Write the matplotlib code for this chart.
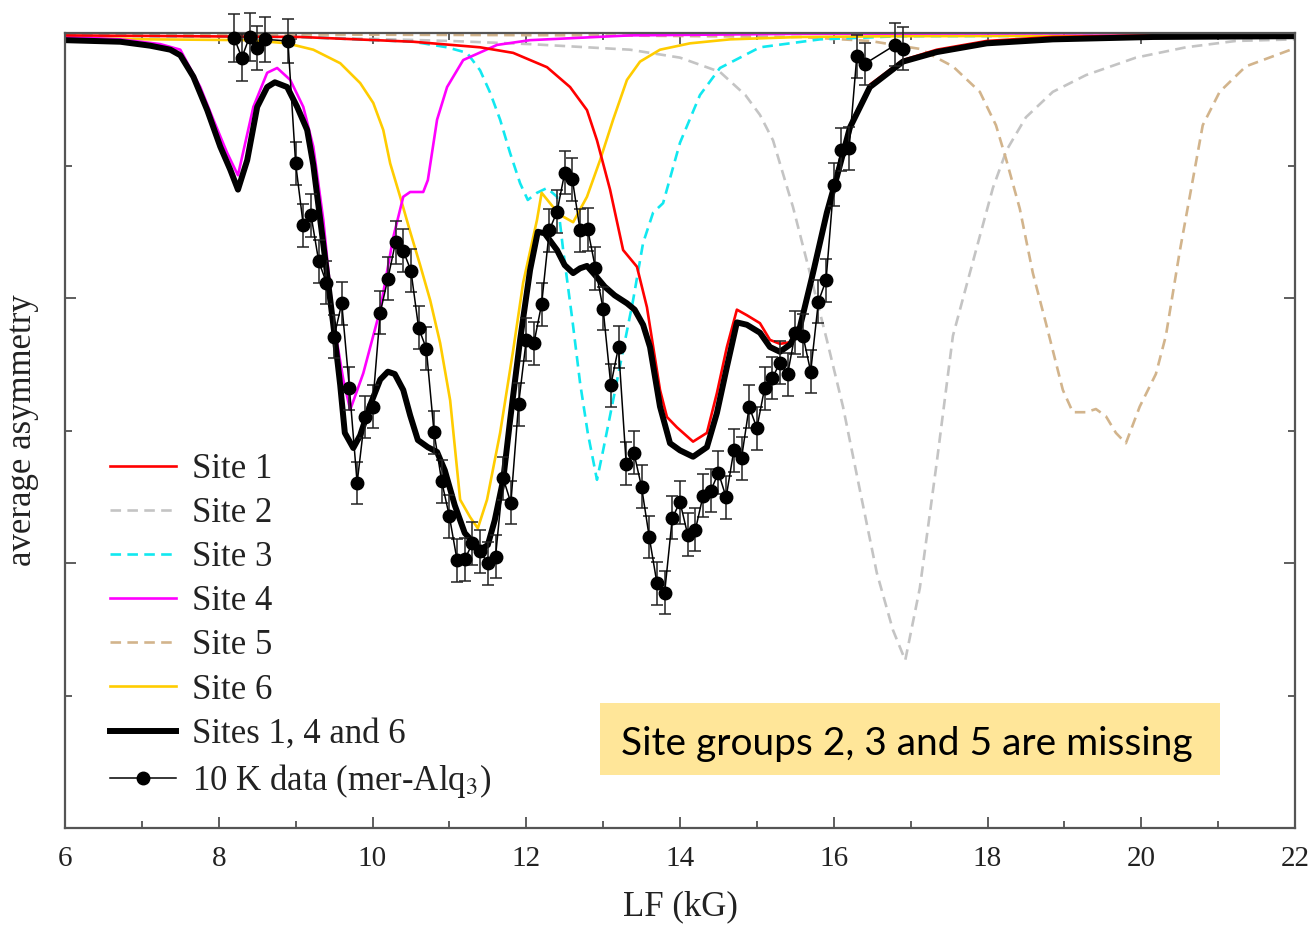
import matplotlib
matplotlib.use("Agg")
import matplotlib.pyplot as plt
from matplotlib.ticker import MultipleLocator, FixedLocator, NullFormatter
from matplotlib.patches import Rectangle

plt.rcParams['font.family'] = ['Liberation Serif', 'DejaVu Serif']
plt.rcParams['mathtext.fontset'] = 'stix'

# ---------------- data (LF in kG, asymmetry in relative units, top = 100) -------------
site1_x = [6.00, 9.06, 10.53, 11.40, 11.83, 12.27, 12.57, 12.79, 12.92, 13.09, 13.26, 13.44, 13.57,
           13.74, 13.83, 13.96, 14.17, 14.35, 14.48, 14.61, 14.74, 14.87, 15.04, 15.17, 15.30, 15.43,
           15.56, 15.73, 15.91, 16.04, 16.21, 16.47, 16.90, 17.34, 17.99, 18.85, 20.15, 22.00]
site1_y = [99.7, 99.5, 98.9, 98.2, 97.5, 95.7, 93.2, 90.3, 86.5, 80.3, 72.7, 70.6, 65.5,
           55.1, 51.7, 50.4, 48.6, 49.7, 54.7, 60.5, 65.2, 64.5, 63.5, 61.4, 60.9, 61.1,
           63.3, 70.1, 77.6, 82.1, 88.3, 93.5, 96.6, 97.9, 99.0, 99.5, 99.7, 99.9]

site2_x = [6.00, 9.06, 11.01, 12.05, 13.35, 14.00, 14.52, 14.85, 15.04, 15.21, 15.47, 15.69, 15.91,
           16.12, 16.34, 16.56, 16.77, 16.93, 17.12, 17.34, 17.55, 17.77, 18.07, 18.25, 18.50, 18.85,
           19.28, 19.93, 20.58, 21.23, 22.00]
site2_y = [99.7, 99.5, 99.0, 98.6, 97.9, 96.9, 95.1, 92.2, 89.7, 86.5, 78.1, 69.8, 61.4,
           53.0, 42.5, 32.1, 24.9, 21.1, 30.2, 46.0, 61.9, 69.8, 80.5, 85.3, 89.4, 92.6,
           94.7, 96.9, 98.2, 99.0, 99.2]

site3_x = [6.00, 9.06, 10.53, 10.97, 11.23, 11.40, 11.53, 11.66, 11.79, 11.92, 12.02, 12.14, 12.27,
           12.40, 12.48, 12.60, 12.70, 12.80, 12.92, 13.00, 13.13, 13.26, 13.39, 13.52, 13.65, 13.78,
           13.91, 14.00, 14.26, 14.52, 15.04, 15.82, 16.86, 22.00]
site3_y = [99.7, 99.5, 98.9, 98.2, 97.5, 95.3, 92.5, 89.1, 84.9, 81.1, 79.0, 79.9, 80.5,
           79.4, 72.7, 63.9, 56.0, 49.7, 43.8, 47.5, 53.8, 60.1, 66.4, 73.6, 77.4, 78.6,
           83.1, 86.2, 92.2, 95.6, 98.2, 99.2, 99.6, 99.7]

site4_x = [6.00, 6.72, 7.24, 7.50, 7.76, 7.93, 8.11, 8.25, 8.45, 8.63, 8.76, 8.93, 9.10, 9.23,
           9.36, 9.49, 9.62, 9.71, 9.88, 10.10, 10.27, 10.40, 10.49, 10.66, 10.72, 10.84, 10.97,
           11.18, 11.62, 12.05, 13.35, 15.56, 22.00]
site4_y = [99.5, 99.2, 98.6, 97.9, 93.2, 89.1, 84.9, 82.1, 90.7, 95.0, 95.6, 94.1, 90.7, 85.7,
           76.5, 63.9, 56.4, 52.6, 57.2, 65.2, 74.3, 79.4, 80.0, 80.0, 81.5, 89.1, 93.2,
           96.6, 98.5, 99.1, 99.7, 99.9, 100.0]

site5_x = [6.00, 12.96, 15.56, 16.47, 17.12, 17.55, 17.90, 18.11, 18.24, 18.42, 18.59, 18.76, 18.98,
           19.11, 19.28, 19.41, 19.54, 19.67, 19.80, 19.98, 20.19, 20.32, 20.50, 20.67, 20.80, 21.02,
           21.36, 22.00]
site5_y = [99.9, 99.7, 99.5, 99.0, 98.0, 95.8, 92.6, 88.4, 84.2, 77.9, 69.8, 63.5, 55.1,
           52.3, 52.3, 52.7, 51.8, 49.7, 48.4, 53.0, 57.1, 61.9, 72.5, 81.5, 88.4, 92.6,
           95.8, 98.1]

site6_x = [6.00, 7.11, 8.41, 8.89, 9.23, 9.58, 9.84, 10.01, 10.14, 10.23, 10.36, 10.49, 10.62, 10.75,
           10.88, 11.01, 11.14, 11.27, 11.37, 11.49, 11.66, 11.83, 11.96, 12.14, 12.20, 12.35, 12.48,
           12.61, 12.79, 12.96, 13.13, 13.31, 13.48, 13.74, 14.13, 14.65, 15.56, 16.86, 22.00]
site6_y = [99.4, 99.2, 99.1, 98.7, 97.9, 96.2, 93.7, 91.2, 87.8, 83.6, 79.4, 75.0, 70.8, 66.4,
           61.0, 53.8, 41.3, 39.1, 37.7, 41.3, 49.7, 60.1, 68.6, 76.5, 79.9, 78.1, 76.9,
           76.2, 79.4, 84.0, 89.1, 94.1, 96.4, 97.9, 98.7, 99.2, 99.5, 99.6, 99.7]

sum146_x = [6.00, 6.72, 7.11, 7.37, 7.50, 7.67, 7.85, 8.02, 8.15, 8.25, 8.37, 8.50, 8.63, 8.73, 8.89,
            9.02, 9.15, 9.23, 9.32, 9.41, 9.49, 9.58, 9.64, 9.75, 9.84, 9.97, 10.10, 10.20, 10.29,
            10.40, 10.49, 10.59, 10.72, 10.84, 10.94, 11.07, 11.20, 11.40, 11.50, 11.59, 11.70, 11.79,
            11.92, 12.05, 12.15, 12.24, 12.40, 12.50, 12.61, 12.70, 12.79, 12.89, 13.02, 13.15, 13.31,
            13.41, 13.52, 13.61, 13.74, 13.87, 14.00, 14.17, 14.35, 14.48, 14.61, 14.74, 14.87, 15.04,
            15.17, 15.30, 15.43, 15.56, 15.73, 15.91, 16.04, 16.21, 16.47, 16.90, 17.34, 17.99, 18.85,
            20.15, 22.00]
sum146_y = [99.1, 98.9, 98.4, 97.9, 97.2, 94.5, 90.3, 85.7, 82.8, 80.3, 84.0, 90.7, 93.2, 93.8, 93.2,
            90.7, 87.8, 83.4, 76.5, 69.6, 63.3, 55.7, 49.7, 47.8, 49.4, 53.2, 56.4, 57.4, 57.1,
            55.1, 51.9, 48.8, 47.9, 47.3, 45.0, 40.6, 37.1, 35.0, 35.6, 38.7, 43.8, 51.3,
            61.4, 70.2, 75.0, 74.8, 72.7, 70.8, 69.8, 70.4, 70.7, 69.6, 68.1, 67.0, 66.0,
            65.2, 63.3, 60.5, 53.0, 48.4, 47.5, 46.7, 47.9, 52.2, 58.0, 63.6, 63.3, 62.3,
            60.5, 59.9, 60.8, 63.0, 69.8, 77.4, 81.9, 88.1, 93.2, 96.4, 97.6, 98.7, 99.2,
            99.5, 99.6]

data_x = [8.2, 8.3, 8.4, 8.5, 8.6, 8.9, 9.0, 9.1, 9.2, 9.3, 9.4, 9.5, 9.6, 9.7, 9.8, 9.9, 10.0,
          10.1, 10.2, 10.3, 10.4, 10.5, 10.6, 10.7, 10.8, 10.9, 11.0, 11.1, 11.2, 11.3, 11.4, 11.5,
          11.6, 11.7, 11.8, 11.9, 12.0, 12.1, 12.2, 12.3, 12.4, 12.5, 12.6, 12.7, 12.8, 12.9, 13.0,
          13.1, 13.2, 13.3, 13.4, 13.5, 13.6, 13.7, 13.8, 13.9, 14.0, 14.1, 14.2, 14.3, 14.4, 14.5,
          14.6, 14.7, 14.8, 14.9, 15.0, 15.1, 15.2, 15.3, 15.4, 15.5, 15.6, 15.7, 15.8, 15.9, 16.0,
          16.1, 16.2, 16.3, 16.4, 16.8, 16.9]
data_y = [99.4, 96.9, 99.5, 98.1, 99.2, 99.0, 83.6, 75.8, 77.1, 71.3, 68.6, 61.8, 66.0, 55.3, 43.4,
          51.7, 53.0, 64.8, 69.1, 73.7, 72.6, 70.1, 62.9, 60.3, 49.8, 43.6, 39.2, 33.7, 33.8, 35.8,
          34.8, 33.3, 34.1, 44.0, 40.9, 53.3, 61.4, 61.0, 65.9, 75.2, 77.5, 82.4, 81.6, 75.2, 75.3,
          70.4, 65.3, 55.7, 60.5, 45.8, 47.2, 42.9, 36.6, 30.8, 29.6, 39.0, 41.0, 36.9, 37.5, 41.8,
          42.4, 44.7, 41.6, 47.5, 46.5, 53.0, 50.3, 55.3, 56.6, 58.5, 57.1, 62.3, 61.9, 57.4, 66.2,
          68.9, 80.9, 85.3, 85.5, 97.1, 96.1, 98.5, 98.0]
data_err = [3.0, 3.0, 3.0, 2.8, 2.8, 2.8, 2.7, 2.7, 2.7, 2.7, 2.7, 2.7, 2.7, 2.7, 2.7, 2.7, 2.7,
            2.7, 2.7, 2.7, 2.7, 2.7, 2.7, 2.7, 2.7, 2.7, 2.7, 2.7, 2.7, 2.7, 2.7, 2.7,
            2.7, 2.7, 2.7, 2.7, 2.7, 2.7, 2.7, 2.7, 2.7, 2.7, 2.7, 2.7, 2.7, 2.7, 2.7,
            2.7, 2.7, 2.7, 2.7, 2.7, 2.7, 2.7, 2.7, 2.7, 2.7, 2.7, 2.7, 2.7, 2.7, 2.7,
            2.7, 2.7, 2.7, 2.7, 2.7, 2.7, 2.7, 2.7, 2.7, 2.7, 2.7, 2.7, 2.7, 2.7, 2.7,
            2.7, 2.7, 2.7, 2.7, 2.7, 2.7]

labels = ["Site 1", "Site 2", "Site 3", "Site 4", "Site 5", "Site 6",
          "Sites 1, 4 and 6", "10 K data (mer-Alq$_3$)"]
x_ticks = [6, 8, 10, 12, 14, 16, 18, 20, 22]
note_text = "Site groups 2, 3 and 5 are missing"

# ---------------- figure ----------------
fig = plt.figure(figsize=(13.1, 9.25), dpi=100)
ax = fig.add_axes([65 / 1310, 97 / 925, 1230 / 1310, 795 / 925])

lw = 1.9
dash = (4.0, 2.4)
l2, = ax.plot(site2_x, site2_y, color='#c4c4c4', lw=lw, dashes=dash)
l5, = ax.plot(site5_x, site5_y, color='#d2b48c', lw=lw, dashes=dash)
l3, = ax.plot(site3_x, site3_y, color='#11e8f0', lw=lw, dashes=dash)
l6, = ax.plot(site6_x, site6_y, color='#ffcc00', lw=lw)
l4, = ax.plot(site4_x, site4_y, color='#ff00ff', lw=lw)
l1, = ax.plot(site1_x, site1_y, color='#ff0000', lw=lw)
lsum, = ax.plot(sum146_x, sum146_y, color='black', lw=4.3)
eb = ax.errorbar(data_x, data_y, yerr=data_err, color='black', lw=1.1, marker='o', ms=9,
                 capsize=4.5, elinewidth=1.1, capthick=1.1, ecolor='#222222', zorder=5)
eb.lines[0].set_clip_on(False)
for art in eb.lines[1]:
    art.set_clip_on(False)
for art in eb.lines[2]:
    art.set_clip_on(False)

ax.set_xlim(6, 22)
ax.set_ylim(0, 100)
ax.xaxis.set_major_locator(FixedLocator(x_ticks))
ax.xaxis.set_minor_locator(MultipleLocator(1))
ax.yaxis.set_major_locator(FixedLocator([100 / 3, 200 / 3]))
ax.yaxis.set_minor_locator(FixedLocator([100 / 6, 50, 500 / 6]))
ax.yaxis.set_major_formatter(NullFormatter())
ax.set_xticklabels([str(t) for t in x_ticks])

spine_c = '#555555'
for s in ax.spines.values():
    s.set_color(spine_c)
    s.set_linewidth(1.6)
ax.tick_params(which='both', direction='in', top=True, right=True, color='#333333', width=1.1)
ax.tick_params(which='major', length=8)
ax.tick_params(which='minor', length=5)
ax.tick_params(axis='x', which='major', labelsize=21, pad=13, labelcolor='#222222')

ax.set_xlabel("LF (kG)", fontsize=25, color='#222222')
ax.xaxis.set_label_coords(0.5, -0.079)
ax.xaxis.label.set_va('top')
ax.set_ylabel("average asymmetry", fontsize=25, color='#222222')
ax.yaxis.set_label_coords(-0.021, 0.5)

leg = ax.legend([l1, l2, l3, l4, l5, l6, lsum, eb.lines[0]], labels, loc='upper left',
                bbox_to_anchor=((110 - 65) / 1230, (828 - 453) / 795), borderaxespad=0,
                borderpad=0, frameon=False, fontsize=25, handlelength=1.9, handletextpad=0.45,
                labelspacing=0.32)
for t in leg.get_texts():
    t.set_color('#222222')

ax.add_patch(Rectangle(((600 - 65) / 1230, (828 - 775) / 795), 620 / 1230, 72 / 795,
                       transform=ax.transAxes, facecolor='#ffe699', edgecolor='none', zorder=6))
ax.text((907 - 65) / 1230, (828 - 755) / 795, note_text,
        transform=ax.transAxes, ha='center', va='baseline', fontsize=28,
        family=['Lato', 'DejaVu Sans'], color='black', zorder=7)

fig.savefig("out.png", dpi=100)
